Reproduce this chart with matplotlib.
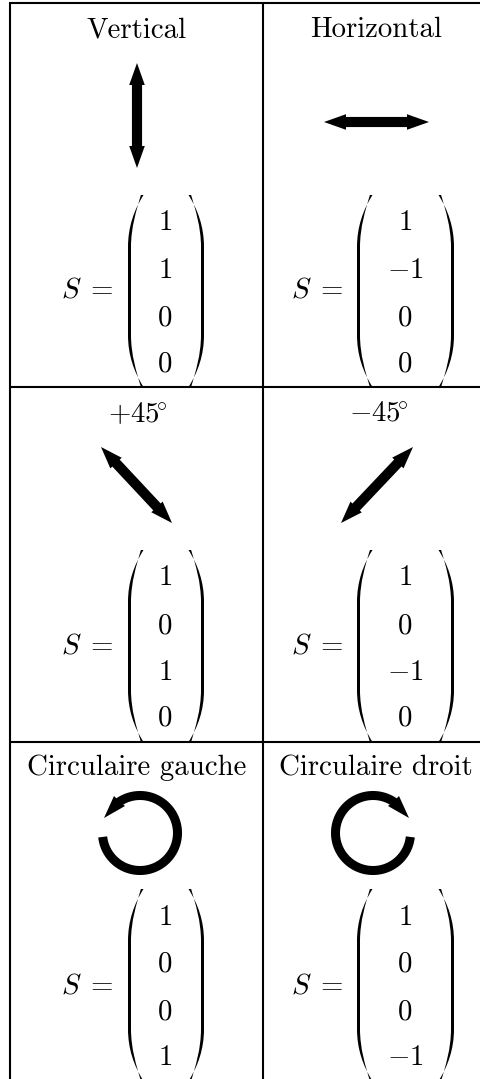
import numpy as np
import matplotlib
matplotlib.use('Agg')
import matplotlib.pyplot as plt
from matplotlib.path import Path
from matplotlib.patches import PathPatch, Polygon

plt.rcParams['mathtext.fontset'] = 'cm'
plt.rcParams['font.family'] = ['cmr10', 'DejaVu Serif']
plt.rcParams['axes.formatter.use_mathtext'] = True

titles = ['Vertical', 'Horizontal', r'$+45\!^{\circ}$', r'$-45\!^{\circ}$', 'Circulaire gauche', 'Circulaire droit']
stokes = [[1, 1, 0, 0], [1, -1, 0, 0], [1, 0, 1, 0], [1, 0, -1, 0], [1, 0, 0, 1], [1, 0, 0, -1]]

# table layout, in pixels of the picture
col_lines = [10, 263]
row_lines = [3, 387, 741.5]
title_x = [136.5, 376, 138, 379, 137, 376]
title_y = [37, 37, 422, 422, 775, 775]
entry_y = [[230, 278, 325, 372], [585, 633, 680, 726], [925, 972, 1019, 1065]]
s_y = [298, 653, 993]
s_x = [61, 291]
paren_top = [195, 550, 889]
paren_x = [(128, 204), (357, 454)]
entry_x = [165, 405]

# arrows (start, end)
arrows = [((137, 63), (137, 168)), ((324, 122), (429, 122)),
          ((101, 447), (172, 523)), ((413, 447), (341, 523))]
circle_c = [(140, 833), (373, 833)]
circle_dir = [1, -1]

fig = plt.figure(figsize=(4.81, 10.79), dpi=100)
ax = fig.add_axes([0, 0, 1, 1])
ax.set_xlim(0, 481)
ax.set_ylim(1079, 0)
ax.axis('off')


def head(tip, back, w=7.8):
    tip = np.array(tip, float)
    back = np.array(back, float)
    d = (back - tip) / np.linalg.norm(back - tip)
    n = np.array([-d[1], d[0]])
    pts = [tip, back + n * w, back - n * w]
    ax.add_patch(Polygon(pts, closed=True, fc='black', ec='none', zorder=3))


def double_arrow(a, b, hl=22):
    a = np.array(a, float)
    b = np.array(b, float)
    d = (b - a) / np.linalg.norm(b - a)
    # shaft runs a little way into the heads
    ax.plot([a[0] + d[0] * (hl - 4), b[0] - d[0] * (hl - 4)], [a[1] + d[1] * (hl - 4), b[1] - d[1] * (hl - 4)],
            color='black', lw=7.3, solid_capstyle='butt', zorder=2)
    head(a, a + d * hl)
    head(b, b - d * hl)


def paren(x0, top, h, side):
    # side 1 opens right, -1 opens left
    w = 15.5
    t = 3.0
    bot = top + h
    def X(v):
        return x0 + side * v
    verts = [(X(w), top), (X(6), top + 15), (X(0), top + 32), (X(0), top + 52),
             (X(0), bot - 52),
             (X(0), bot - 32), (X(6), bot - 15), (X(w), bot),
             (X(w - 2.6), bot),
             (X(8.5), bot - 15), (X(t), bot - 32), (X(t), bot - 52),
             (X(t), top + 52),
             (X(t), top + 32), (X(8.5), top + 15), (X(w - 2.6), top),
             (X(w), top)]
    codes = [Path.MOVETO, Path.CURVE4, Path.CURVE4, Path.CURVE4, Path.LINETO,
             Path.CURVE4, Path.CURVE4, Path.CURVE4, Path.LINETO,
             Path.CURVE4, Path.CURVE4, Path.CURVE4, Path.LINETO,
             Path.CURVE4, Path.CURVE4, Path.CURVE4, Path.CLOSEPOLY]
    ax.add_patch(PathPatch(Path(verts, codes), fc='black', ec='none', lw=0))


def circ_arrow(c, sgn):
    # angles measured from west, going round by the bottom
    ang = np.radians(np.linspace(6, 305, 120))
    r = 37.5
    x = c[0] - sgn * r * np.cos(ang)
    y = c[1] + r * np.sin(ang)
    ax.plot(x, y, color='black', lw=6.5, solid_capstyle='butt', zorder=2)
    pts = [(c[0] - sgn * 36, 818), (c[0] - sgn * 26, 796), (c[0] - sgn * 21, 801), (c[0] - sgn * 15, 806)]
    ax.add_patch(Polygon(pts, closed=True, fc='black', ec='none', zorder=3))


for x in col_lines:
    ax.plot([x, x], [2, 1079], color='black', lw=1.5, solid_capstyle='butt')
for y in row_lines:
    ax.plot([9, 481], [y, y], color='black', lw=1.5, solid_capstyle='butt')

fs = 20.8
for i, title in enumerate(titles):
    col = i % 2
    row = i // 2
    ax.text(title_x[i], title_y[i], title, ha='center', va='baseline', fontsize=fs)
    for v, y in zip(stokes[i], entry_y[row]):
        ax.text(entry_x[col], y, f'${v}$', ha='center', va='baseline', fontsize=fs)
    ax.text(s_x[col], s_y[row], r'$S\;=$', ha='left', va='baseline', fontsize=fs)
    paren(paren_x[col][0], paren_top[row], 192, 1)
    paren(paren_x[col][1], paren_top[row], 192, -1)

for a, b in arrows:
    double_arrow(a, b)
for c, s in zip(circle_c, circle_dir):
    circ_arrow(c, s)

fig.savefig('out.png', dpi=100)
